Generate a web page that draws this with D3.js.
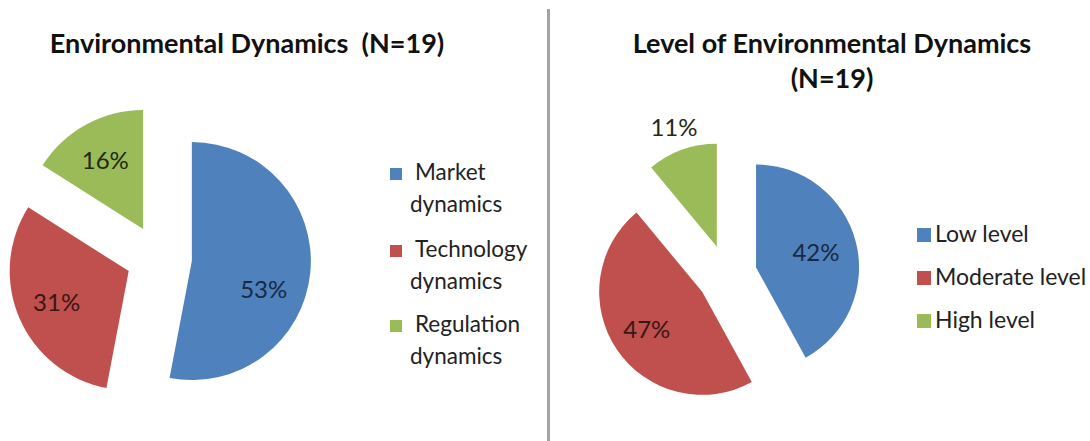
<!DOCTYPE html>
<html>
<head>
<meta charset="utf-8">
<script src="https://cdn.jsdelivr.net/npm/d3@7"></script>
<style>
  html, body { margin: 0; padding: 0; background: #ffffff; }
  svg { display: block; }
  text { font-family: Lato, "Open Sans", sans-serif; fill: #1e1e1e; white-space: pre; }
</style>
</head>
<body>
<svg id="chart" width="1090" height="441"></svg>
<script>
// ---- data ----
const leftTitle = ["Environmental Dynamics  (N=19)"];
const leftCategories = ["Market dynamics", "Technology dynamics", "Regulation dynamics"];
const leftValues = [53, 31, 16];

const rightTitle = ["Level of Environmental Dynamics", "(N=19)"];
const rightCategories = ["Low level", "Moderate level", "High level"];
const rightValues = [42, 47, 11];

const sliceColors = ["#4f81bd", "#c0504d", "#9bbb59"];
const labelColors = ["#1b2844", "#3a1616", "#1f2a12"];

// ---- layout ----
const svg = d3.select("#chart");

// divider between the two panels
svg.append("line")
  .attr("x1", 548.5).attr("x2", 548.5)
  .attr("y1", 9).attr("y2", 441)
  .attr("stroke", "#a3a3a3").attr("stroke-width", 3);

const panels = [
  {
    title: leftTitle, titleX: 247, titleY: [53], titleSize: 27,
    categories: leftCategories, values: leftValues,
    cx: 159, cy: 258, r: 119, explode: 33,
    labelRadius: [0.64, 0.66, 0.66],
    labelNudge: [[-4, 21], [0, 0], [0, 0]],
    labelSize: 24,
    legend: {
      x: 390, square: 12, size: 22.5,
      firstX: 415, wrapX: 410,
      baselines: [[180, 212], [257, 289], [332, 364]],
      lines: d => d.split(" ")
    }
  },
  {
    title: rightTitle, titleX: 832, titleY: [53, 88], titleSize: 27,
    categories: rightCategories, values: rightValues,
    cx: 727, cy: 275, r: 103, explode: 30,
    labelRadius: [0.6, 0.65, 1.23],
    labelNudge: [[0, 0], [0, 0], [0, 0]],
    labelSize: 24,
    legend: {
      x: 917, square: 14, size: 23,
      firstX: 935, wrapX: 935,
      baselines: [[242], [285], [328]],
      lines: d => [d]
    }
  }
];

const pie = d3.pie().sort(null).value(d => d).startAngle(0).endAngle(2 * Math.PI);

panels.forEach(p => {
  const g = svg.append("g");

  // title
  g.selectAll("text.title")
    .data(p.title)
    .join("text")
    .attr("class", "title")
    .attr("x", p.titleX)
    .attr("y", (d, i) => p.titleY[i])
    .attr("text-anchor", "middle")
    .attr("font-size", p.titleSize)
    .attr("font-weight", "bold")
    .style("fill", "#111")
    .text(d => d);

  const arc = d3.arc().innerRadius(0).outerRadius(p.r);
  const arcs = pie(p.values);

  const dir = a => [Math.sin(a), -Math.cos(a)];
  const mid = d => (d.startAngle + d.endAngle) / 2;

  // exploded slices
  const slices = g.selectAll("g.slice")
    .data(arcs)
    .join("g")
    .attr("class", "slice")
    .attr("transform", d => {
      const [ux, uy] = dir(mid(d));
      return `translate(${p.cx + ux * p.explode},${p.cy + uy * p.explode})`;
    });

  slices.append("path")
    .attr("d", arc)
    .attr("fill", (d, i) => sliceColors[i]);

  // percentage labels
  slices.append("text")
    .attr("transform", (d, i) => {
      const [ux, uy] = dir(mid(d));
      const lr = p.labelRadius[i] * p.r;
      return `translate(${ux * lr + p.labelNudge[i][0]},${uy * lr + p.labelNudge[i][1]})`;
    })
    .attr("text-anchor", "middle")
    .attr("dy", "0.36em")
    .attr("font-size", p.labelSize)
    .style("fill", (d, i) => labelColors[i])
    .text(d => d.data + "%");

  // legend
  const L = p.legend;
  const items = g.selectAll("g.legend")
    .data(p.categories)
    .join("g")
    .attr("class", "legend");

  items.append("rect")
    .attr("x", L.x)
    .attr("y", (d, i) => L.baselines[i][0] - L.square)
    .attr("width", L.square)
    .attr("height", L.square)
    .attr("fill", (d, i) => sliceColors[i]);

  items.each(function (d, i) {
    d3.select(this).selectAll("text")
      .data(L.lines(d))
      .join("text")
      .attr("x", (t, j) => j === 0 ? L.firstX : L.wrapX)
      .attr("y", (t, j) => L.baselines[i][j])
      .attr("font-size", L.size)
      .style("fill", "#222")
      .text(t => t);
  });
});
</script>
</body>
</html>
